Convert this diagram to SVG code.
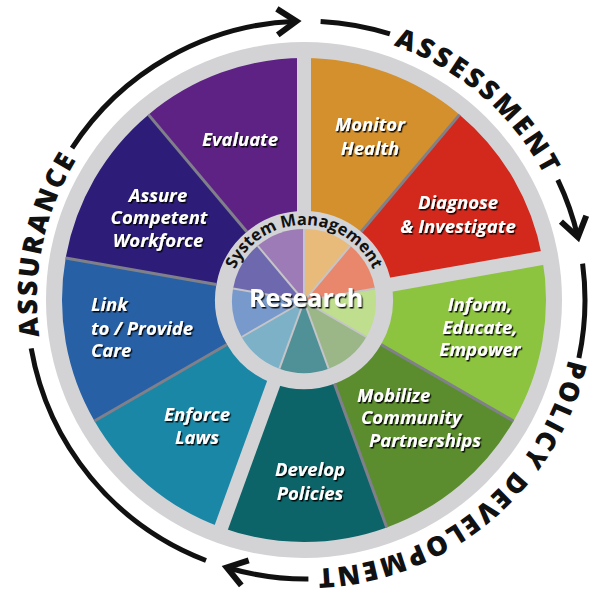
<svg xmlns="http://www.w3.org/2000/svg" width="590" height="595" viewBox="0 0 590 595">
<defs>
<style>
.lbl{font-family:"Open Sans","Noto Sans","DejaVu Sans",sans-serif;font-weight:700;font-style:italic;font-size:18.5px;fill:#fff;filter:url(#sh)}
.c{text-anchor:middle}
.phase{font-family:"Open Sans","DejaVu Sans",sans-serif;font-weight:800;font-size:27px;fill:#111;letter-spacing:3px}
.arc{fill:none;stroke:#111;stroke-width:5}
.thin{stroke:#80808a;stroke-width:3}
.thick{stroke:#d3d3d6;stroke-width:14}
.isep{stroke:#c4c4c9;stroke-width:2}
</style>
<filter id="sh" x="-10%" y="-20%" width="130%" height="150%">
<feDropShadow dx="1.3" dy="1.5" stdDeviation="0.7" flood-color="#000" flood-opacity="0.9"/>
</filter>
<marker id="ah" markerUnits="userSpaceOnUse" markerWidth="40" markerHeight="40" viewBox="-30 -20 40 40" refX="0" refY="0" orient="auto" style="overflow:visible">
<path d="M-19,-13 L0,0 L-19,13" fill="none" stroke="#111" stroke-width="6"/>
</marker>
<path id="ring" d="M306,31 A269,269 0 1 1 306,569 A269,269 0 1 1 306,31"/>
<path id="sm" d="M228,301 A76,76 0 0 1 380,301"/>
</defs>
<rect width="590" height="595" fill="#fff"/>
<circle cx="304" cy="300" r="258" fill="#d3d3d6"/>

<g id="evaluate"><path fill="#5e2285" d="M148.44,114.63 A242,242 0 0 1 304,58 L304,211 A89,89 0 0 0 246.79,231.83 Z"/><text class="lbl c" x="240" y="146">Evaluate</text></g>
<g id="monitor-health"><path fill="#d4902c" d="M304,58 A242,242 0 0 1 459.56,114.63 L361.21,231.83 A89,89 0 0 0 304,211 Z"/><text class="lbl c" x="370" y="131">Monitor<tspan x="370" dy="24">Health</tspan></text></g>
<g id="diagnose"><path fill="#d3291d" d="M459.56,114.63 A242,242 0 0 1 542.32,257.99 L391.65,284.55 A89,89 0 0 0 361.21,231.83 Z"/><text class="lbl c" x="458" y="209">Diagnose<tspan x="458" dy="24">&amp; Investigate</tspan></text></g>
<g id="inform"><path fill="#8cc43f" d="M542.32,257.99 A242,242 0 0 1 513.57,421 L381.07,344.5 A89,89 0 0 0 391.65,284.55 Z"/><text class="lbl c" x="480" y="311">Inform,<tspan x="480" dy="23">Educate,</tspan><tspan x="480" dy="22">Empower</tspan></text></g>
<g id="mobilize"><path fill="#5b8d2f" d="M513.57,421 A242,242 0 0 1 386.76,527.41 L334.44,383.63 A89,89 0 0 0 381.07,344.5 Z"/><text class="lbl" x="357" y="402">Mobilize<tspan x="361" dy="22">Community</tspan><tspan x="369" dy="23">Partnerships</tspan></text></g>
<g id="develop-policies"><path fill="#0c6468" d="M386.76,527.41 A242,242 0 0 1 221.24,527.41 L273.56,383.63 A89,89 0 0 0 334.44,383.63 Z"/><text class="lbl c" x="310" y="476">Develop<tspan x="310" dy="24">Policies</tspan></text></g>
<g id="enforce-laws"><path fill="#1a87a6" d="M221.24,527.41 A242,242 0 0 1 94.43,421 L226.93,344.5 A89,89 0 0 0 273.56,383.63 Z"/><text class="lbl c" x="197" y="421">Enforce<tspan x="197" dy="23">Laws</tspan></text></g>
<g id="link-care"><path fill="#2760a5" d="M94.43,421 A242,242 0 0 1 65.68,257.99 L216.35,284.55 A89,89 0 0 0 226.93,344.5 Z"/><text class="lbl" x="91" y="311">Link<tspan x="91" dy="24">to / Provide</tspan><tspan x="91" dy="22">Care</tspan></text></g>
<g id="assure-workforce"><path fill="#2d1d78" d="M65.68,257.99 A242,242 0 0 1 148.44,114.63 L246.79,231.83 A89,89 0 0 0 216.35,284.55 Z"/><text class="lbl c" x="158" y="202">Assure<tspan x="159" dy="22">Competent</tspan><tspan x="158" dy="23">Workforce</tspan></text></g>

<g id="dividers">
<line class="thin" x1="361.21" y1="231.83" x2="459.56" y2="114.63"/>
<line class="thin" x1="381.07" y1="344.5" x2="513.57" y2="421"/>
<line class="thin" x1="334.44" y1="383.63" x2="386.76" y2="527.41"/>
<line class="thin" x1="226.93" y1="344.5" x2="94.43" y2="421"/>
<line class="thin" x1="216.35" y1="284.55" x2="65.68" y2="257.99"/>
<line class="thin" x1="246.79" y1="231.83" x2="148.44" y2="114.63"/>
<line class="thick" x1="304" y1="215" x2="304" y2="50"/>
<line class="thick" x1="387.71" y1="285.24" x2="548.23" y2="256.95"/>
<line class="thick" x1="274.93" y1="379.87" x2="219.18" y2="533.05"/>
</g>

<g id="research">
<path fill="#9d7bb6" d="M304,301 L257.72,245.85 A72,72 0 0 1 304,229 Z"/>
<path fill="#e9bb7a" d="M304,301 L304,229 A72,72 0 0 1 350.28,245.85 Z"/>
<path fill="#e9876c" d="M304,301 L350.28,245.85 A72,72 0 0 1 374.91,288.5 Z"/>
<path fill="#bfde8e" d="M304,301 L374.91,288.5 A72,72 0 0 1 366.35,337 Z"/>
<path fill="#9bb788" d="M304,301 L366.35,337 A72,72 0 0 1 328.62,368.66 Z"/>
<path fill="#4f9196" d="M304,301 L328.62,368.66 A72,72 0 0 1 279.38,368.66 Z"/>
<path fill="#7cb1c8" d="M304,301 L279.38,368.66 A72,72 0 0 1 241.65,337 Z"/>
<path fill="#7899cb" d="M304,301 L241.65,337 A72,72 0 0 1 233.09,288.5 Z"/>
<path fill="#6e69ae" d="M304,301 L233.09,288.5 A72,72 0 0 1 257.72,245.85 Z"/>
<g class="isep">
<line x1="304" y1="301" x2="304" y2="229"/><line x1="304" y1="301" x2="350.28" y2="245.85"/><line x1="304" y1="301" x2="374.91" y2="288.5"/>
<line x1="304" y1="301" x2="366.35" y2="337"/><line x1="304" y1="301" x2="328.62" y2="368.66"/><line x1="304" y1="301" x2="279.38" y2="368.66"/>
<line x1="304" y1="301" x2="241.65" y2="337"/><line x1="304" y1="301" x2="233.09" y2="288.5"/><line x1="304" y1="301" x2="257.72" y2="245.85"/>
</g>
<text font-family="Open Sans, DejaVu Sans, sans-serif" font-weight="700" font-size="16.5" fill="#111"><textPath href="#sm" startOffset="50%" text-anchor="middle">System Management</textPath></text>
<text x="306" y="307" text-anchor="middle" font-family="Open Sans, DejaVu Sans, sans-serif" font-weight="700" font-size="25" fill="#fff" filter="url(#sh)">Research</text>
</g>

<g id="connectors">
<path class="arc" d="M72,148.1 A279,279 0 0 1 296.3,21.2" marker-end="url(#ah)"/>
<path class="arc" d="M320.6,21.4 A279,279 0 0 1 389.9,33.9"/>
<path class="arc" d="M557.8,179.9 A279,279 0 0 1 577.9,237.2" marker-end="url(#ah)"/>
<path class="arc" d="M582.6,263.6 A279,279 0 0 1 578.9,358"/>
<path class="arc" d="M308.4,579 A279,279 0 0 1 226.8,567.5" marker-end="url(#ah)"/>
<path class="arc" d="M206,560.5 A279,279 0 0 1 31.2,348.4"/>
</g>
<g id="phases">
<text class="phase"><textPath href="#ring" startOffset="192" text-anchor="middle">ASSESSMENT</textPath></text>
<text class="phase" style="letter-spacing:2.5px"><textPath href="#ring" startOffset="659" text-anchor="middle">POLICY DEVELOPMENT</textPath></text>
<text class="phase" style="letter-spacing:2.5px"><textPath href="#ring" startOffset="1324" text-anchor="middle">ASSURANCE</textPath></text>
</g>
</svg>
